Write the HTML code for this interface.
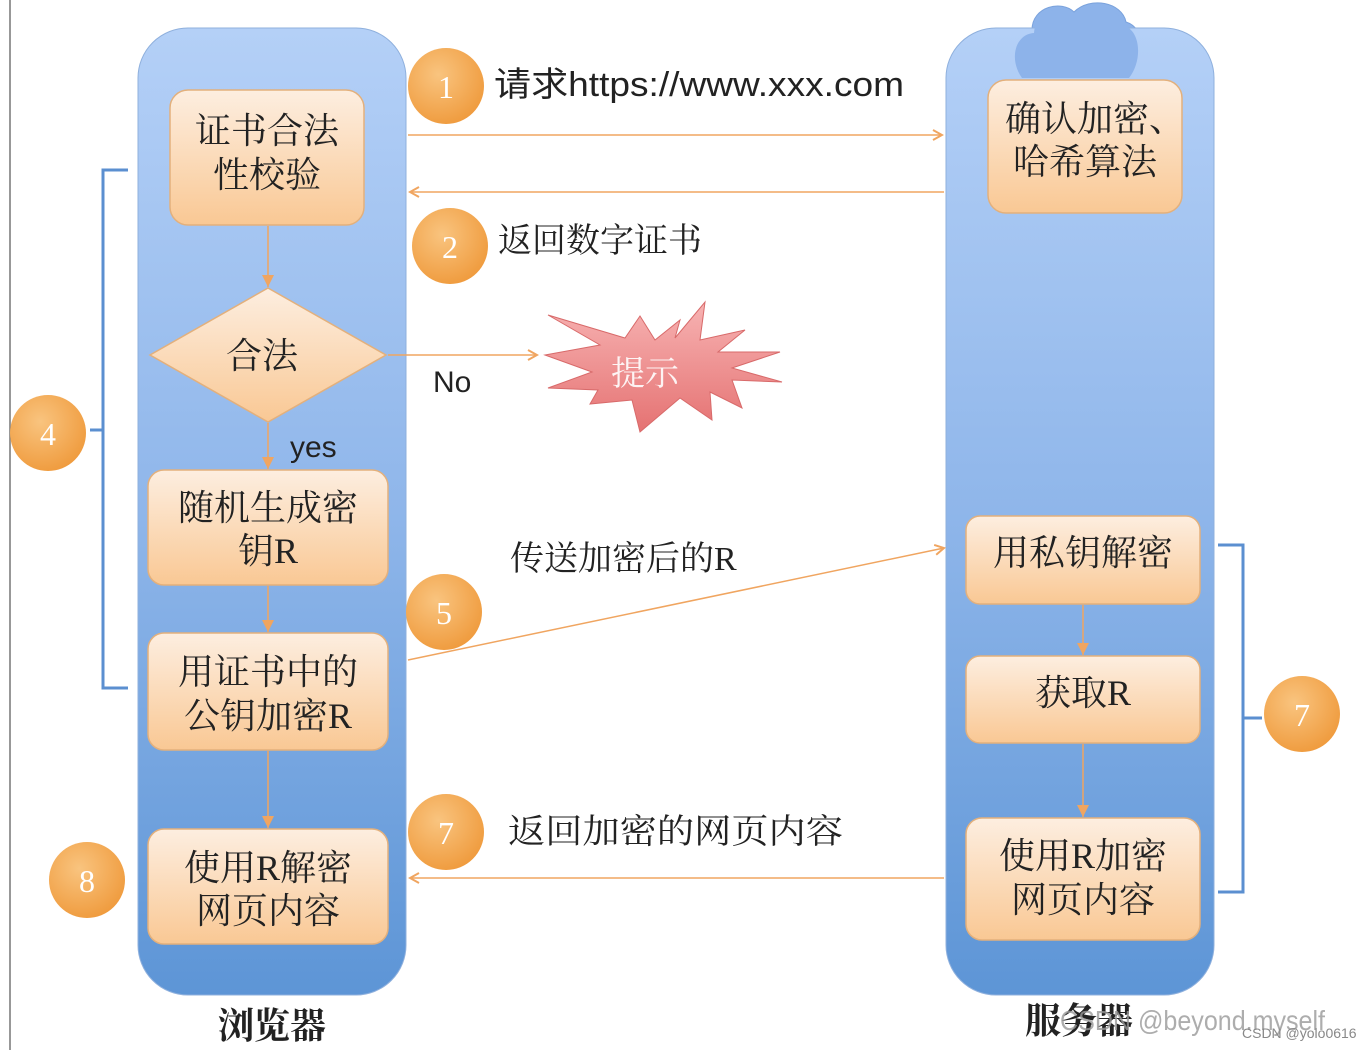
<!DOCTYPE html>
<html><head><meta charset="utf-8"><style>
html,body{margin:0;padding:0;background:#fff;}
svg{display:block;}
text{font-family:"Liberation Serif","Noto Serif CJK SC",serif;}
.s{font-family:"Liberation Sans","Noto Sans CJK SC",sans-serif;}
</style></head><body>
<svg width="1364" height="1050" viewBox="0 0 1364 1050" xmlns="http://www.w3.org/2000/svg">
<defs>
<linearGradient id="col" x1="0" y1="0" x2="0" y2="1">
<stop offset="0" stop-color="#b4d0f7"/><stop offset="0.5" stop-color="#8fb6ea"/><stop offset="1" stop-color="#5d95d6"/></linearGradient>
<linearGradient id="box" x1="0" y1="0" x2="0" y2="1">
<stop offset="0" stop-color="#fdeee0"/><stop offset="1" stop-color="#f9c894"/></linearGradient>
<radialGradient id="circ" cx="0.4" cy="0.35" r="0.7">
<stop offset="0" stop-color="#f9c47f"/><stop offset="1" stop-color="#ef9a3c"/></radialGradient>
<linearGradient id="star" x1="0" y1="0" x2="0" y2="1">
<stop offset="0" stop-color="#f7b3b3"/><stop offset="1" stop-color="#e57272"/></linearGradient>
<marker id="ar" markerWidth="12" markerHeight="12" refX="10" refY="6" orient="auto" markerUnits="userSpaceOnUse">
<path d="M1,1 L10,6 L1,11" fill="none" stroke="#f0a560" stroke-width="2"/></marker>
<marker id="tri" markerWidth="14" markerHeight="12" refX="12" refY="6" orient="auto" markerUnits="userSpaceOnUse">
<path d="M0,0 L12,6 L0,12 Z" fill="#f0a560"/></marker>
</defs>
<line x1="10" y1="0" x2="10" y2="1050" stroke="#777" stroke-width="1.5"/>

<!-- columns -->
<path d="M1018,75 C1005,55 1012,30 1032,30 C1032,6 1062,0 1074,12 C1090,-4 1122,2 1126,22 C1146,28 1146,60 1132,75 Z" fill="#8db3ea" stroke="#7aa2dc"/>
<rect x="138" y="28" width="268" height="967" rx="50" fill="url(#col)" stroke="#8fb0dd"/>
<rect x="946" y="28" width="268" height="967" rx="50" fill="url(#col)" stroke="#8fb0dd"/>
<path d="M1022,78 C1008,58 1016,34 1034,33 C1036,9 1064,3 1075,15 C1091,0 1120,6 1123,25 C1142,31 1142,62 1129,78 Z" fill="#8db3ea"/>

<!-- brackets -->
<path d="M128,170 L103,170 L103,688 L128,688 M103,430 L90,430" fill="none" stroke="#5b8fd0" stroke-width="3"/>
<path d="M1218,545 L1243,545 L1243,892 L1218,892 M1243,718 L1262,718" fill="none" stroke="#5b8fd0" stroke-width="3"/>

<g fill="url(#box)" stroke="#e3b07c" stroke-width="1.5">
<rect x="170" y="90" width="194" height="135" rx="18"/>
<rect x="148" y="470" width="240" height="115" rx="16"/>
<rect x="148" y="633" width="240" height="117" rx="16"/>
<rect x="148" y="829" width="240" height="115" rx="16"/>
<rect x="988" y="80" width="194" height="133" rx="18"/>
<rect x="966" y="516" width="234" height="88" rx="14"/>
<rect x="966" y="656" width="234" height="87" rx="14"/>
<rect x="966" y="818" width="234" height="122" rx="16"/>
<polygon points="268,288 386,355 268,422 150,355"/>
</g>

<g stroke="#f0a560" stroke-width="1.5">
<line x1="268" y1="226" x2="268" y2="287" marker-end="url(#tri)"/>
<line x1="268" y1="423" x2="268" y2="469" marker-end="url(#tri)"/>
<line x1="268" y1="586" x2="268" y2="632" marker-end="url(#tri)"/>
<line x1="268" y1="751" x2="268" y2="828" marker-end="url(#tri)"/>
<line x1="1083" y1="605" x2="1083" y2="655" marker-end="url(#tri)"/>
<line x1="1083" y1="744" x2="1083" y2="817" marker-end="url(#tri)"/>
</g>
<g stroke="#f0a560" stroke-width="1.5" fill="none">
<line x1="408" y1="135" x2="942" y2="135" marker-end="url(#ar)"/>
<line x1="944" y1="192" x2="410" y2="192" marker-end="url(#ar)"/>
<line x1="388" y1="355" x2="537" y2="355" marker-end="url(#ar)"/>
<line x1="408" y1="660" x2="944" y2="548" marker-end="url(#ar)"/>
<line x1="944" y1="878" x2="410" y2="878" marker-end="url(#ar)"/>
</g>

<!-- starburst -->
<polygon points="545,355 600,345 548,315 625,338 640,316 655,340 680,320 675,338 705,302 700,340 745,330 718,352 780,352 732,368 782,382 732,380 742,408 710,392 712,420 680,398 640,432 632,400 590,404 598,390 548,388 592,372" fill="url(#star)" stroke="#d86a6a"/>
<text x="645" y="385" font-size="34" fill="#fff" text-anchor="middle" opacity="0.9">提示</text>

<g fill="url(#circ)">
<circle cx="446" cy="86" r="38"/><circle cx="450" cy="246" r="38"/>
<circle cx="48" cy="433" r="38"/><circle cx="444" cy="612" r="38"/>
<circle cx="446" cy="832" r="38"/><circle cx="87" cy="880" r="38"/>
<circle cx="1302" cy="714" r="38"/>
</g>
<g fill="#fff" font-size="32" text-anchor="middle">
<text x="446" y="98">1</text><text x="450" y="258">2</text><text x="48" y="445">4</text>
<text x="444" y="624">5</text><text x="446" y="844">7</text><text x="87" y="892">8</text>
<text x="1302" y="726">7</text>
</g>

<g font-size="36" fill="#222" text-anchor="middle">
<text x="267" y="143">证书合法</text><text x="267" y="187">性校验</text>
<text x="262" y="368">合法</text>
<text x="268" y="520">随机生成密</text><text x="268" y="563">钥R</text>
<text x="268" y="684">用证书中的</text><text x="268" y="728">公钥加密R</text>
<text x="268" y="880">使用R解密</text><text x="268" y="923">网页内容</text>
<text x="1095" y="131">确认加密、</text><text x="1085" y="174">哈希算法</text>
<text x="1083" y="565">用私钥解密</text>
<text x="1083" y="705">获取R</text>
<text x="1083" y="868">使用R加密</text><text x="1083" y="912">网页内容</text>
</g>

<g font-size="34" fill="#222">
<text x="494" y="96" class="s" textLength="410" lengthAdjust="spacingAndGlyphs">请求https://www.xxx.com</text>
<text x="498" y="252">返回数字证书</text>
<text x="433" y="392" class="s" font-size="30">No</text>
<text x="290" y="457" class="s" font-size="30">yes</text>
<text x="510" y="570">传送加密后的R</text>
<text x="508" y="843" textLength="335" lengthAdjust="spacingAndGlyphs">返回加密的网页内容</text>
<text x="218" y="1038" font-weight="bold" font-size="36">浏览器</text>
<text x="1025" y="1033" font-weight="bold" font-size="36">服务器</text>
</g>
<text x="1060" y="1030" font-size="28" fill="#999" class="s" opacity="0.8" textLength="265" lengthAdjust="spacingAndGlyphs">CSDN @beyond.myself</text>
<text x="1242" y="1038" font-size="14" fill="#888" class="s">CSDN @yolo0616</text>
</svg>
</body></html>
